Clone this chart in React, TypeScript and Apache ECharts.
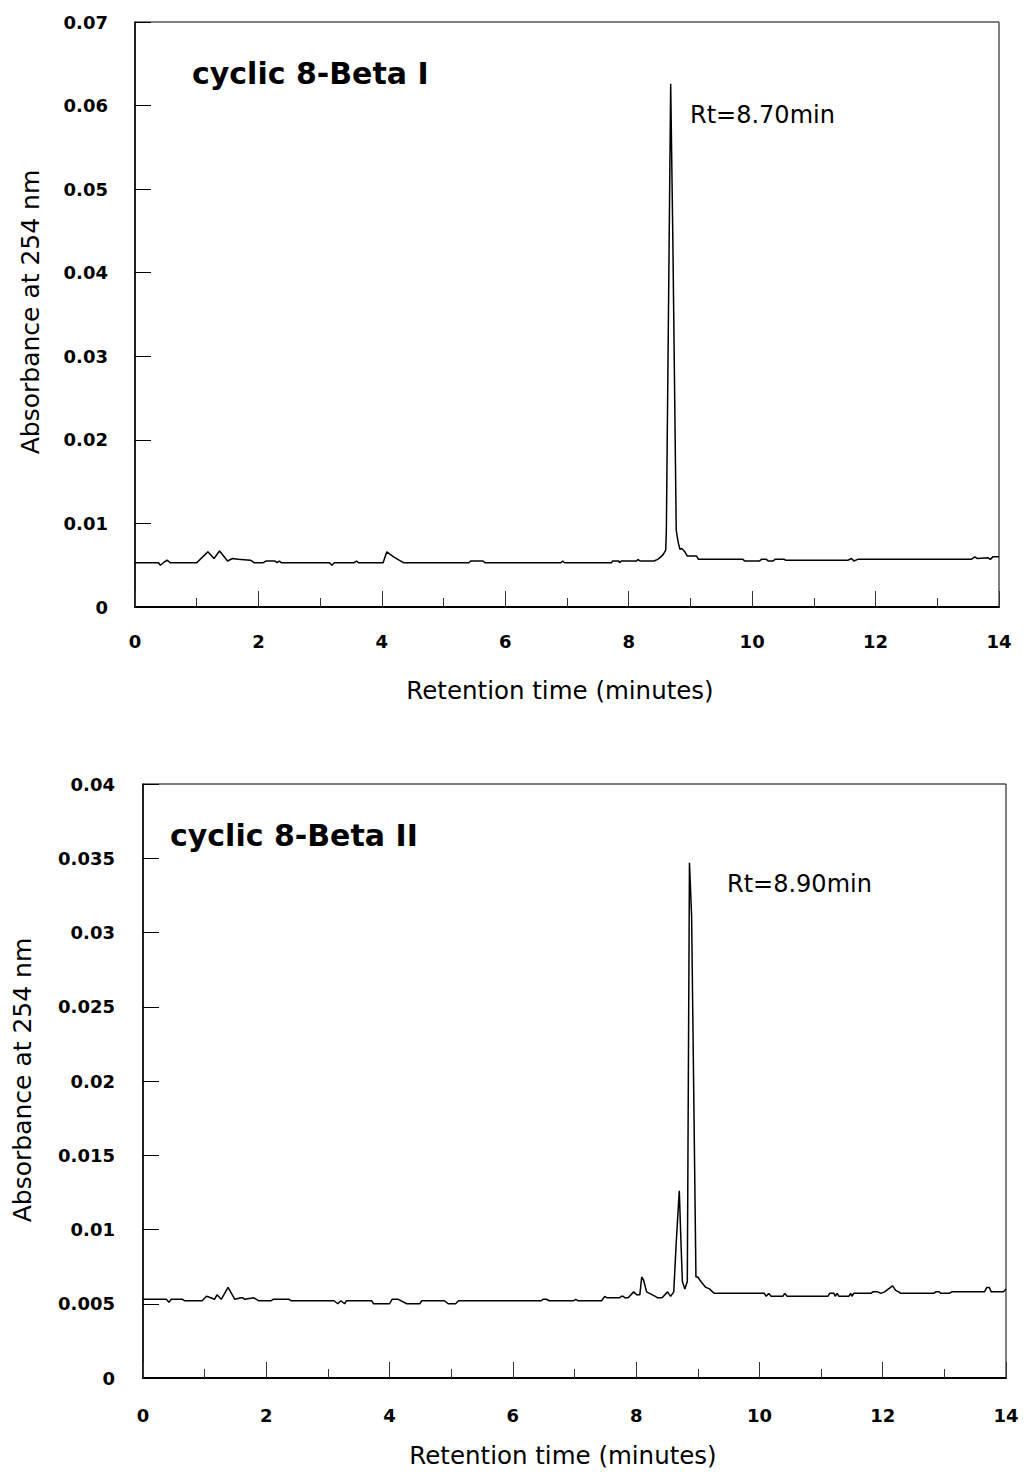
import React, { useEffect, useRef } from "react";
import * as echarts from "echarts";

// ---- Data ----
const xTickLabels = ["0", "2", "4", "6", "8", "10", "12", "14"];

const topTimes = [
  0, 0.38, 0.41, 0.46, 0.52, 0.57, 1.0, 1.18, 1.28, 1.37, 1.5, 1.58, 1.67, 1.87, 1.93,
  2.08, 2.12, 2.27, 2.3, 2.34, 2.37, 3.15, 3.19, 3.23, 3.55, 3.59, 3.62, 4.02, 4.08, 4.19,
  4.28, 4.35, 5.41, 5.44, 5.64, 5.67, 6.9, 6.93, 6.96, 7.72, 7.74, 7.84, 7.85, 7.88, 8.13,
  8.15, 8.18, 8.41, 8.47, 8.52, 8.56, 8.6, 8.61, 8.68, 8.715, 8.77, 8.8, 8.83, 8.86, 8.91,
  8.95, 9.1, 9.13, 9.85, 9.88, 10.12, 10.15, 10.23, 10.26, 10.34, 10.37, 10.52, 10.54,
  11.55, 11.61, 11.65, 11.71, 13.55, 13.61, 13.65, 13.82, 13.86, 13.9, 14.0,
];
const topAbs = [
  0.0053, 0.0053, 0.005, 0.0053, 0.0056, 0.0053, 0.0053, 0.0066, 0.0058, 0.0067, 0.0055,
  0.0058, 0.0057, 0.0056, 0.0053, 0.0053, 0.0055, 0.0055, 0.0053, 0.0055, 0.0053, 0.0053,
  0.005, 0.0053, 0.0053, 0.0055, 0.0053, 0.0053, 0.0066, 0.006, 0.0056, 0.0053, 0.0053,
  0.0055, 0.0055, 0.0053, 0.0053, 0.0055, 0.0053, 0.0053, 0.0055, 0.0055, 0.0053, 0.0055,
  0.0055, 0.0057, 0.0055, 0.0055, 0.0057, 0.006, 0.0063, 0.0068, 0.0092, 0.0626, 0.044,
  0.0092, 0.0078, 0.0069, 0.007, 0.0066, 0.0061, 0.0061, 0.0057, 0.0057, 0.0055, 0.0055,
  0.0057, 0.0057, 0.0055, 0.0055, 0.0057, 0.0057, 0.0056, 0.0056, 0.0058, 0.0055, 0.0057,
  0.0057, 0.006, 0.0058, 0.0059, 0.0057, 0.006, 0.006,
];

const bottomTimes = [
  0, 0.38, 0.42, 0.46, 0.64, 0.68, 0.96, 1.03, 1.1, 1.16, 1.2, 1.27, 1.38, 1.49, 1.59, 1.62,
  1.65, 1.8, 1.88, 2.08, 2.11, 2.37, 2.4, 3.1, 3.16, 3.21, 3.27, 3.3, 3.71, 3.74, 4.0, 4.04,
  4.14, 4.28, 4.49, 4.52, 4.89, 4.95, 5.07, 5.12, 6.46, 6.49, 6.54, 6.59, 6.98, 7.02, 7.06,
  7.44, 7.49, 7.53, 7.73, 7.76, 7.79, 7.82, 7.87, 7.96, 8.01, 8.06, 8.09, 8.12, 8.17, 8.31,
  8.35, 8.42, 8.51, 8.56, 8.61, 8.65, 8.7, 8.73, 8.75, 8.79, 8.83, 8.865, 8.9, 8.97, 9.0,
  9.05, 9.13, 9.19, 9.24, 9.27, 10.08, 10.11, 10.15, 10.19, 10.38, 10.41, 10.45, 11.11,
  11.14, 11.21, 11.23, 11.26, 11.29, 11.45, 11.48, 11.5, 11.53, 11.81, 11.84, 11.92, 11.97,
  12.03, 12.16, 12.21, 12.26, 12.29, 12.83, 12.86, 12.92, 12.94, 13.08, 13.12, 13.65, 13.69,
  13.73, 13.76, 13.96, 14.0,
];
const bottomAbs = [
  0.0053, 0.0053, 0.0051, 0.0053, 0.0053, 0.0052, 0.0052, 0.0055, 0.0054, 0.0053, 0.0056,
  0.0053, 0.0061, 0.0053, 0.0054, 0.0054, 0.0053, 0.0054, 0.0052, 0.0052, 0.0053, 0.0053,
  0.0052, 0.0052, 0.005, 0.0052, 0.005, 0.0052, 0.0052, 0.005, 0.005, 0.0053, 0.0053, 0.005,
  0.005, 0.0052, 0.0052, 0.005, 0.005, 0.0052, 0.0052, 0.0053, 0.0053, 0.0052, 0.0052,
  0.0053, 0.0052, 0.0052, 0.0055, 0.0054, 0.0054, 0.0055, 0.0055, 0.0054, 0.0054, 0.0058,
  0.0056, 0.0056, 0.0068, 0.0066, 0.0058, 0.0055, 0.0054, 0.0054, 0.0058, 0.0055, 0.0058,
  0.0091, 0.0126, 0.0088, 0.0065, 0.006, 0.0065, 0.0347, 0.0311, 0.0068, 0.0068, 0.0065,
  0.0061, 0.006, 0.0058, 0.0057, 0.0057, 0.0055, 0.0057, 0.0055, 0.0055, 0.0057, 0.0055,
  0.0055, 0.0057, 0.0057, 0.0055, 0.0057, 0.0055, 0.0055, 0.0057, 0.0055, 0.0057, 0.0057,
  0.0058, 0.0058, 0.0057, 0.0058, 0.0062, 0.0059, 0.0058, 0.0057, 0.0057, 0.0058, 0.0058,
  0.0057, 0.0057, 0.0058, 0.0058, 0.0061, 0.0061, 0.0058, 0.0058, 0.006,
];

const topTitle = "cyclic 8-Beta I";
const bottomTitle = "cyclic 8-Beta II";
const topNote = "Rt=8.70min";
const bottomNote = "Rt=8.90min";
const xName = "Retention time (minutes)";
const yName = "Absorbance at 254 nm";

const FONT = "DejaVu Sans";

function pairs(t: number[], v: number[]) {
  return t.map((x, i) => [x, v[i]]);
}

function xAxisFor(gridIndex: number, margin: number) {
  return {
    type: "value",
    gridIndex,
    min: 0,
    max: 14,
    interval: 2,
    axisLine: { show: true, lineStyle: { color: "#000", width: 2 } },
    axisTick: { show: true, inside: true, length: 16, lineStyle: { color: "#333", width: 1 } },
    minorTick: { show: true, splitNumber: 2, length: 9, lineStyle: { color: "#333", width: 1 } },
    splitLine: { show: false },
    minorSplitLine: { show: false },
    axisLabel: {
      margin,
      color: "#000",
      fontFamily: FONT,
      fontWeight: "bold",
      fontSize: 18,
      formatter: (val: number) => xTickLabels[Math.round(val / 2)] ?? String(val),
    },
  };
}

function yAxisFor(gridIndex: number, max: number, interval: number, margin: number) {
  return {
    type: "value",
    gridIndex,
    min: 0,
    max,
    interval,
    axisLine: { show: true, lineStyle: { color: "#000", width: 1.5 } },
    axisTick: { show: true, inside: true, length: 16, lineStyle: { color: "#000", width: 1 } },
    splitLine: { show: false },
    axisLabel: {
      margin,
      color: "#000",
      fontFamily: FONT,
      fontWeight: "bold",
      fontSize: 18,
      formatter: (val: number) => String(parseFloat(val.toFixed(4))),
    },
  };
}

function txt(
  text: string,
  x: number,
  y: number,
  size: number,
  bold: boolean,
  align: string,
  rotation = 0
) {
  return {
    type: "text",
    x,
    y,
    rotation,
    silent: true,
    style: {
      text,
      fill: "#000",
      fontFamily: FONT,
      fontSize: size,
      fontWeight: bold ? "bold" : "normal",
      align,
      verticalAlign: "middle",
      textAlign: align,
      textVerticalAlign: "middle",
    },
  };
}

export default function App() {
  const ref = useRef<HTMLDivElement>(null);

  useEffect(() => {
    if (!ref.current) return;
    const chart = echarts.init(ref.current, undefined, { renderer: "svg" });
    chart.setOption({
      animation: false,
      backgroundColor: "#fff",
      grid: [
        {
          left: 135,
          top: 22,
          width: 864,
          height: 585,
          show: true,
          borderColor: "#000",
          borderWidth: 1,
          backgroundColor: "transparent",
        },
        {
          left: 143,
          top: 784,
          width: 863,
          height: 594,
          show: true,
          borderColor: "#000",
          borderWidth: 1,
          backgroundColor: "transparent",
        },
      ],
      xAxis: [xAxisFor(0, 25), xAxisFor(1, 28)],
      yAxis: [yAxisFor(0, 0.07, 0.01, 27), yAxisFor(1, 0.04, 0.005, 28)],
      series: [
        {
          type: "line",
          xAxisIndex: 0,
          yAxisIndex: 0,
          data: pairs(topTimes, topAbs),
          showSymbol: false,
          symbol: "none",
          lineStyle: { color: "#000", width: 1.5 },
        },
        {
          type: "line",
          xAxisIndex: 1,
          yAxisIndex: 1,
          data: pairs(bottomTimes, bottomAbs),
          showSymbol: false,
          symbol: "none",
          lineStyle: { color: "#000", width: 1.5 },
        },
      ],
      graphic: [
        txt(topTitle, 192, 73, 30, true, "left"),
        txt(topNote, 690, 115, 24, false, "left"),
        txt(xName, 560, 690, 24.5, false, "center"),
        txt(yName, 30, 312, 25, false, "center", Math.PI / 2),
        txt(bottomTitle, 170, 835, 30, true, "left"),
        txt(bottomNote, 727, 884, 24, false, "left"),
        txt(xName, 563, 1455, 24.5, false, "center"),
        txt(yName, 22, 1080, 25, false, "center", Math.PI / 2),
      ],
    });
    return () => chart.dispose();
  }, []);

  return (
    <div
      ref={ref}
      style={{ position: "absolute", left: 0, top: 0, width: 1026, height: 1472 }}
    />
  );
}
